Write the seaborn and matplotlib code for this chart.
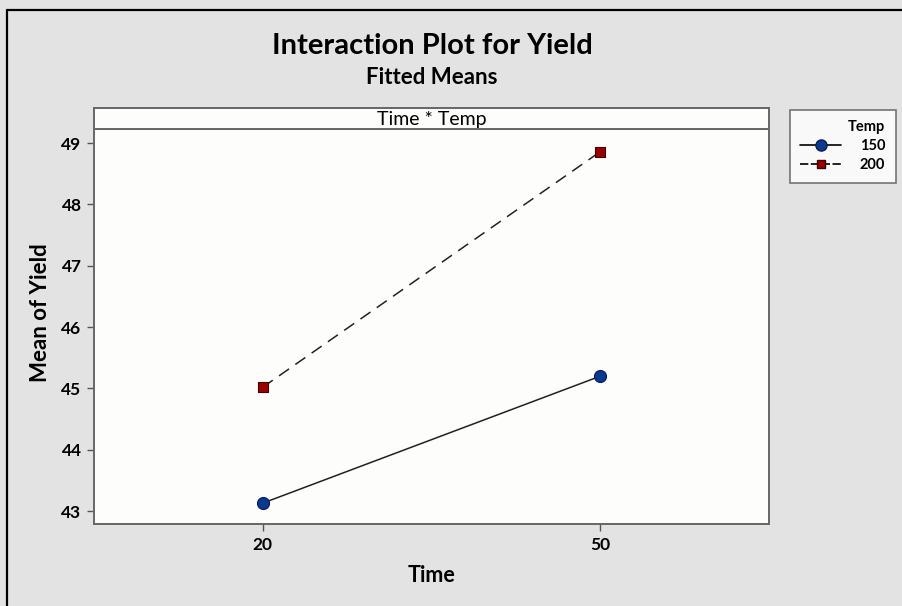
import pandas as pd
import numpy as np
import seaborn as sns
import matplotlib.pyplot as plt
from matplotlib.lines import Line2D

# fitted means
time_levels = ["20", "50"]
temp_levels = ["150", "200"]
mean_150 = [43.13, 45.20]
mean_200 = [45.02, 48.86]
y_ticks = [43, 44, 45, 46, 47, 48, 49]

df = pd.DataFrame({
    "Time": time_levels * 2,
    "Temp": [temp_levels[0]] * 2 + [temp_levels[1]] * 2,
    "Yield": mean_150 + mean_200,
})

sns.set_style("white")
plt.rcParams['font.family'] = ['Lato', 'DejaVu Sans']
plt.rcParams['text.color'] = 'black'
plt.rcParams['axes.labelcolor'] = 'black'
plt.rcParams['xtick.color'] = 'black'
plt.rcParams['ytick.color'] = 'black'

bg = "#e3e3e3"
fig = plt.figure(figsize=(9.02, 6.06), dpi=100, facecolor=bg)

# frame line along top and left edge like the screenshot
fig.add_artist(Line2D([7/902, 7/902], [0, 1 - 10/606], color="black", lw=1.6, transform=fig.transFigure))
fig.add_artist(Line2D([7/902, 1], [1 - 10/606, 1 - 10/606], color="black", lw=1.6, transform=fig.transFigure))

left, right = 94/902, 769/902
bottom, top = 1 - 524/606, 1 - 129/606
ax = fig.add_axes([left, bottom, right - left, top - bottom])
ax.set_facecolor("#fdfdfb")

palette = {"150": "#0a3a8f", "200": "#9a0000"}
edges = {"150": "#0a1a50", "200": "#400000"}
markers = {"150": "o", "200": "s"}
sizes = {"150": 75, "200": 42}

sns.lineplot(data=df, x="Time", y="Yield", style="Temp", color="#222222",
             dashes={"150": "", "200": (8, 5)}, lw=1.1, legend=False, ax=ax, sort=False)
for temp in temp_levels:
    sub = df[df["Temp"] == temp]
    sns.scatterplot(data=sub, x="Time", y="Yield", color=palette[temp], marker=markers[temp],
                    s=sizes[temp], edgecolor=edges[temp], linewidth=0.8, legend=False,
                    ax=ax, zorder=5)

ax.set_xlim(-0.5, 1.5)
ax.set_ylim(42.79, 49.23)
ax.set_yticks(y_ticks)
ax.set_xticks([0, 1])
ax.set_xticklabels(time_levels)
ax.tick_params(axis="both", direction="out", length=5, width=1, color="#555555",
               labelsize=12.5, pad=4, left=True, bottom=True)
for lab in ax.get_xticklabels() + ax.get_yticklabels():
    lab.set_fontweight("bold")
for sp in ax.spines.values():
    sp.set_color("#666666")
    sp.set_linewidth(1.4)
ax.set_xlabel("Time", fontsize=15.5, fontweight="bold", labelpad=9)
ax.set_ylabel("Mean of Yield", fontsize=16, fontweight="bold", labelpad=9)
ax.yaxis.set_label_coords(-0.064, 0.535)

# strip panel on top
sax = fig.add_axes([left, top, right - left, 21/606])
sax.set_facecolor("#fdfdfb")
sax.set_xticks([])
sax.set_yticks([])
for sp in sax.spines.values():
    sp.set_color("#666666")
    sp.set_linewidth(1.4)
sax.text(0.5, 0.45, "Time * Temp", ha="center", va="center", fontsize=14, transform=sax.transAxes)

fig.text(432/902, 1 - 46/606, "Interaction Plot for Yield", ha="center", va="center",
         fontsize=21, fontweight="bold")
fig.text(432/902, 1 - 77/606, "Fitted Means", ha="center", va="center",
         fontsize=16, fontweight="bold")

handles = [
    Line2D([], [], color="black", lw=1.2, marker="o", markersize=8,
           markerfacecolor=palette["150"], markeredgecolor=edges["150"]),
    Line2D([], [], color="black", lw=1.2, ls=(0, (5, 1.5)), marker="s", markersize=6,
           markerfacecolor=palette["200"], markeredgecolor=edges["200"]),
]
leg = fig.legend(handles, temp_levels, title="Temp", loc="upper left",
                 bbox_to_anchor=(790/902, 1 - 110/606), frameon=True, fancybox=False,
                 fontsize=10.5, title_fontsize=10.5, handlelength=2.8, borderpad=0.7,
                 labelspacing=0.35, alignment="right", handletextpad=1.3, borderaxespad=0)
leg.get_frame().set_edgecolor("#555555")
leg.get_frame().set_linewidth(1.2)
leg.get_title().set_fontweight("bold")
for t in leg.get_texts():
    t.set_fontweight("bold")

fig.savefig("out.png", dpi=100, facecolor=bg)
